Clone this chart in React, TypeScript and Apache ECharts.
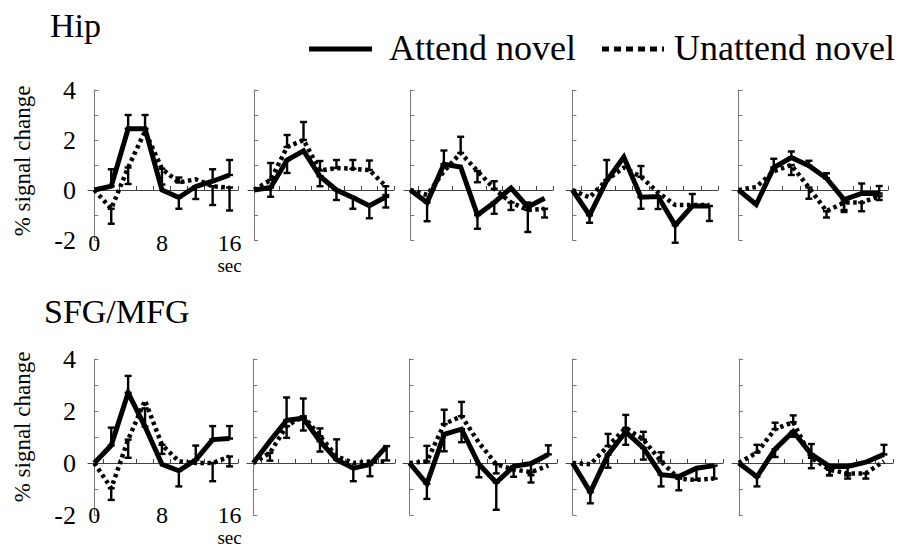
import React, { useEffect, useRef } from "react";
import * as echarts from "echarts";

// ---------- data ----------
const TIME = [0, 2, 4, 6, 8, 10, 12, 14, 16];
const REGIONS = ["Hip", "SFG/MFG"];
const SERIES_NAMES = ["Attend novel", "Unattend novel"];
const Y_AXIS_NAME = "% signal change";
const X_UNIT = "sec";
const X_LABEL_VALUES = [0, 8, 16];
const X_TICK_VALUES = [1, 3, 5, 7, 9, 11, 13, 15, 17];

// Hip: five panels, solid = attend, dotted = unattend; errors are signed (direction of the bar)
const HIP_ATTEND = [
  [0, 0.15, 2.45, 2.45, 0, -0.3, 0.14, 0.35, 0.6],
  [0, 0.1, 1.2, 1.57, 0.55, 0, -0.3, -0.63, -0.28],
  [0, -0.5, 1.03, 0.92, -1.0, -0.5, 0.08, -0.68, -0.33],
  [0, -1.01, 0.37, 1.32, -0.29, -0.26, -1.41, -0.64, -0.64],
  [0, -0.58, 0.9, 1.3, 0.97, 0.47, -0.38, -0.14, -0.14],
];
const HIP_ATTEND_ERR = [
  [0, 0.68, 0.55, 0.55, 0, -0.45, -0.5, 0.48, 0.6],
  [0, -0.37, -0.52, 0, -0.4, -0.4, -0.45, -0.5, -0.42],
  [0, -0.75, 0.55, 0, -0.55, -0.45, 0, -1.0, 0],
  [0, -0.3, 0, 0, -0.46, -0.5, -0.7, 0.48, -0.6],
  [0, 0, 0.35, 0.24, 0.2, 0.2, -0.5, 0.4, 0.3],
];
const HIP_UNATTEND = [
  [0, -0.75, 0.9, 2.35, 0.85, 0.3, 0.43, 0.15, 0.1],
  [0, 0.4, 1.72, 2.0, 0.78, 0.88, 0.85, 0.8, 0.15],
  [0, -0.2, 0.75, 1.48, 0.76, 0.05, -0.5, -0.8, -0.75],
  [0, -0.3, 0.4, 0.9, 0.53, -0.1, -0.6, -0.6, -0.6],
  [0, 0.12, 0.75, 1.0, 0.1, -0.85, -0.5, -0.5, -0.25],
];
const HIP_UNATTEND_ERR = [
  [0, -0.6, -0.66, 0, -0.63, 0.2, 0, -0.75, -0.92],
  [0, 0.68, 0.48, 0.72, 0.38, 0.32, 0.35, 0.38, -0.35],
  [0, 0, 0, 0.65, -0.45, 0.3, -0.3, 0.3, -0.35],
  [0, 0, 0.8, 0, 0.43, 0, 0, 0, 0],
  [0, 0, 0, -0.4, -0.45, -0.25, -0.3, -0.35, -0.15],
];

// SFG/MFG: five panels
const SFG_ATTEND = [
  [0, 0.68, 2.7, 1.4, -0.05, -0.3, 0.12, 0.9, 0.94],
  [0, 0.84, 1.64, 1.72, 0.84, 0.13, -0.2, -0.06, 0.65],
  [0, -0.8, 1.1, 1.3, -0.05, -0.75, -0.13, -0.02, 0.33],
  [0, -1.12, 0.32, 1.2, 0.58, -0.45, -0.52, -0.2, -0.1],
  [0, -0.53, 0.53, 1.21, 0.33, -0.13, -0.13, 0.03, 0.33],
];
const SFG_ATTEND_ERR = [
  [0, 0.68, 0.65, 0.7, 0, -0.6, 0.55, 0.52, 0.48],
  [0, 0, 0.88, 0.76, -0.4, 0.78, -0.5, -0.45, -0.55],
  [0, -0.58, -0.65, -0.5, -0.5, -1.05, -0.4, -0.45, 0.35],
  [0, -0.43, -0.5, -0.5, -0.45, -0.45, 0, -0.45, -0.5],
  [0, -0.37, -0.3, -0.2, 0.4, -0.35, -0.35, 0, 0.37],
];
const SFG_UNATTEND = [
  [0, -0.97, 0.9, 2.4, 0.7, 0.06, 0, 0, 0.25],
  [0, 0.39, 1.42, 1.8, 1.03, 0.26, 0, 0.06, 0.06],
  [0, 0.06, 1.5, 1.8, 0.78, -0.05, -0.25, -0.35, -0.1],
  [0, -0.05, 0.65, 1.35, 0.9, 0.06, -0.6, -0.65, -0.6],
  [0, 0.4, 1.3, 1.57, 0.2, -0.26, -0.4, -0.4, 0.07],
];
const SFG_UNATTEND_ERR = [
  [0, -0.45, -0.7, 0, -0.35, 0, 0, -0.7, -0.38],
  [0, -0.3, -0.45, -0.55, 0.3, 0, 0, 0, 0],
  [0, 0.6, 0.55, 0.55, 0, -0.35, 0, -0.4, 0],
  [0, 0, 0.47, 0.5, 0.3, 0.35, -0.45, 0, 0],
  [0, 0.3, 0.25, 0.26, -0.4, -0.2, -0.2, -0.2, 0],
];

const ROWS = [
  { attend: HIP_ATTEND, attendErr: HIP_ATTEND_ERR, unattend: HIP_UNATTEND, unattendErr: HIP_UNATTEND_ERR },
  { attend: SFG_ATTEND, attendErr: SFG_ATTEND_ERR, unattend: SFG_UNATTEND, unattendErr: SFG_UNATTEND_ERR },
];

// ---------- layout ----------
const FONT = "Liberation Serif";
const ROW_TOP = [90, 359];
const ROW_HEIGHT = [150, 156];
const X_LABEL_MARGIN = [-8, -11];
const PANEL_LEFT = [
  [88, 248, 404, 566, 732],
  [88, 247, 403, 566, 732],
];
const PANEL_WIDTH = [
  [150, 146, 149, 152, 156],
  [150, 148, 154, 157, 161],
];
const TITLE_POS = [
  [50, 25],
  [44, 311],
];
const YNAME_CENTER_Y = [161, 427];

function errRenderItem(params: any, api: any) {
  const x = api.value(0);
  const v = api.value(1);
  const e = api.value(2);
  if (!e) return { type: "group", children: [] };
  const p0 = api.coord([x, v]);
  const p1 = api.coord([x, v + e]);
  const cw = 3.5;
  const st = { stroke: "#000", lineWidth: 2.4 };
  return {
    type: "group",
    children: [
      { type: "line", shape: { x1: p0[0], y1: p0[1], x2: p1[0], y2: p1[1] }, style: st },
      { type: "line", shape: { x1: p1[0] - cw, y1: p1[1], x2: p1[0] + cw, y2: p1[1] }, style: st },
      { type: "line", shape: { x1: p0[0] - cw, y1: p0[1], x2: p0[0] + cw, y2: p0[1] }, style: st },
    ],
  };
}

function buildOption() {
  const grids: any[] = [];
  const xAxes: any[] = [];
  const yAxes: any[] = [];
  const series: any[] = [];
  for (let r = 0; r < 2; r++) {
    for (let p = 0; p < 5; p++) {
      const gi = r * 5 + p;
      grids.push({
        left: PANEL_LEFT[r][p],
        top: ROW_TOP[r],
        width: PANEL_WIDTH[r][p],
        height: ROW_HEIGHT[r],
        containLabel: false,
        outerBoundsMode: "none",
      });
      const xi = xAxes.length;
      xAxes.push({
        gridIndex: gi,
        type: "value",
        position: "top",
        min: -0.75,
        max: 17,
        axisLine: { show: true, onZero: true, lineStyle: { color: "#444", width: 1 } },
        axisTick: { show: true, inside: false, length: 4, customValues: X_TICK_VALUES, lineStyle: { color: "#444" } },
        axisLabel: { show: false },
        splitLine: { show: false },
      });
      if (p === 0) {
        xAxes.push({
          gridIndex: gi,
          type: "value",
          position: "bottom",
          min: -0.75,
          max: 17,
          axisLine: { show: false, onZero: false },
          axisTick: { show: false },
          splitLine: { show: false },
          axisLabel: {
            show: true,
            customValues: X_LABEL_VALUES,
            margin: X_LABEL_MARGIN[r],
            fontFamily: FONT,
            fontSize: 24,
            color: "#000",
            lineHeight: 22,
            formatter: (v: number) => (v === 16 ? "16\n{s|" + X_UNIT + "}" : String(v)),
            rich: { s: { fontFamily: FONT, fontSize: 19, lineHeight: 22, color: "#000" } },
          },
        });
      }
      yAxes.push({
        gridIndex: gi,
        type: "value",
        min: -2,
        max: 4,
        interval: 1,
        axisLine: { show: true, lineStyle: { color: "#777", width: 1 } },
        axisTick: { show: true, inside: true, length: 4, lineStyle: { color: "#777" } },
        axisLabel: {
          show: p === 0,
          margin: 12,
          fontFamily: FONT,
          fontSize: 26,
          color: "#000",
          formatter: (v: number) => (v % 2 === 0 ? String(v) : ""),
        },
        splitLine: { show: false },
      });
      const row = ROWS[r];
      const sets = [
        { name: SERIES_NAMES[0], vals: row.attend[p], errs: row.attendErr[p], dotted: false },
        { name: SERIES_NAMES[1], vals: row.unattend[p], errs: row.unattendErr[p], dotted: true },
      ];
      sets.forEach((s) => {
        series.push({
          type: "line",
          name: s.name,
          xAxisIndex: xi,
          yAxisIndex: gi,
          data: TIME.map((t, i) => [t, s.vals[i]]),
          symbol: "none",
          z: s.dotted ? 2 : 3,
          lineStyle: s.dotted
            ? { color: "#000", width: 4.5, type: [3.5, 3.5], cap: "butt" }
            : { color: "#000", width: 5, cap: "butt", join: "miter" },
        });
        series.push({
          type: "custom",
          name: s.name + " error",
          xAxisIndex: xi,
          yAxisIndex: gi,
          data: TIME.map((t, i) => [t, s.vals[i], s.errs[i]]),
          encode: { x: 0, y: 1 },
          renderItem: errRenderItem,
          clip: false,
          z: 4,
        });
      });
    }
  }

  const graphic: any[] = [];
  REGIONS.forEach((name, r) => {
    graphic.push({
      type: "text",
      x: TITLE_POS[r][0],
      y: TITLE_POS[r][1],
      style: { text: name, fontFamily: FONT, fontSize: 34, fill: "#000", align: "left", verticalAlign: "middle" },
    });
    graphic.push({
      type: "text",
      x: 22,
      y: YNAME_CENTER_Y[r],
      rotation: Math.PI / 2,
      style: { text: Y_AXIS_NAME, fontFamily: FONT, fontSize: 23, fill: "#000", align: "center", verticalAlign: "middle" },
    });
  });
  // legend
  graphic.push({
    type: "line",
    shape: { x1: 309, y1: 49, x2: 372, y2: 49 },
    style: { stroke: "#000", lineWidth: 5 },
  });
  graphic.push({
    type: "text",
    x: 389,
    y: 48,
    style: { text: SERIES_NAMES[0], fontFamily: FONT, fontSize: 36, fill: "#000", align: "left", verticalAlign: "middle" },
  });
  graphic.push({
    type: "line",
    shape: { x1: 602, y1: 49, x2: 664, y2: 49 },
    style: { stroke: "#000", lineWidth: 5, lineDash: [7, 5] },
  });
  graphic.push({
    type: "text",
    x: 674,
    y: 48,
    style: { text: SERIES_NAMES[1], fontFamily: FONT, fontSize: 36, fill: "#000", align: "left", verticalAlign: "middle" },
  });

  return {
    animation: false,
    backgroundColor: "#fff",
    textStyle: { fontFamily: FONT },
    grid: grids,
    xAxis: xAxes,
    yAxis: yAxes,
    series,
    graphic,
  };
}

export default function App() {
  const ref = useRef<HTMLDivElement>(null);
  useEffect(() => {
    if (!ref.current) return;
    const chart = echarts.init(ref.current, null, { renderer: "svg" });
    chart.setOption(buildOption() as any);
    return () => chart.dispose();
  }, []);
  return (
    <div
      ref={ref}
      style={{ position: "fixed", left: 0, top: 0, width: 902, height: 549, background: "#fff" }}
    />
  );
}
